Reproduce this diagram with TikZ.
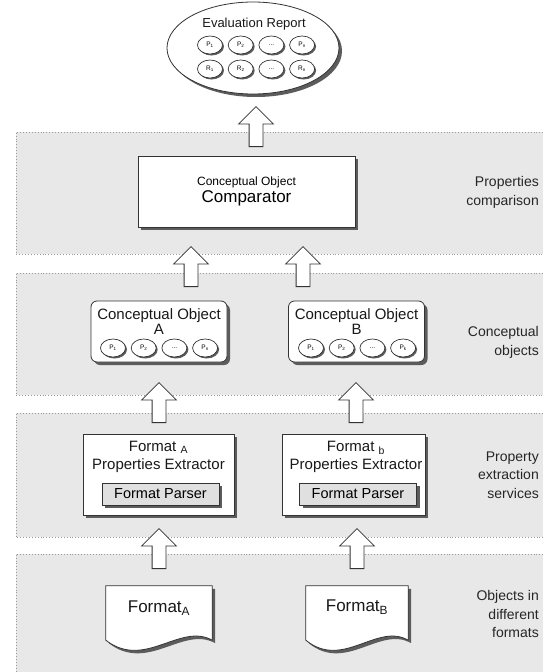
\documentclass[tikz,border=0pt]{standalone}
\usepackage{fontspec}
\setmainfont{Liberation Sans}
\usetikzlibrary{shapes.geometric, shapes.arrows, shadows, positioning}
\definecolor{bandgray}{HTML}{E8E8E8}
\definecolor{linegray}{HTML}{333333}
\definecolor{shadegray}{HTML}{5C5C5C}
\tikzset{
    band/.style={fill=bandgray},
    bandline/.style={draw=black!40, dotted, line width=0.9pt},
    layer/.style={font=\fontsize{14}{18.5}\selectfont, align=right, anchor=east, text=black!85, inner sep=0pt},
    shade/.style={drop shadow={shadow xshift=3pt, shadow yshift=-3pt, fill=shadegray, opacity=1}},
    box/.style={draw=linegray, fill=white, line width=0.8pt, align=center, inner sep=0pt, shade},
    cobox/.style={box, rounded corners=6pt, minimum width=136pt, minimum height=61pt},
    exbox/.style={box, minimum height=81pt},
    parser/.style={box, fill=black!12, minimum width=117pt, minimum height=22pt, font=\fontsize{14.5}{16}\selectfont},
    prop/.style={ellipse, draw=linegray, fill=white, line width=0.7pt, inner sep=0pt, minimum width=25pt, minimum height=18pt, font=\fontsize{6.5}{7}\selectfont, drop shadow={shadow xshift=1.5pt, shadow yshift=-1.5pt, fill=shadegray, opacity=1}},
    title/.style={align=center, inner sep=0pt, text=black!90},
    uparrow/.style={single arrow, draw=linegray, fill=white, line width=0.8pt, rotate=90, minimum height=40pt, minimum width=0pt, single arrow head extend=10.5pt, inner xsep=0pt, inner ysep=6.5pt, anchor=tail},
    docbody/.style={minimum width=106pt, minimum height=54pt, inner sep=0pt},
    docshape/.style={draw=linegray, fill=white, line width=0.8pt, shade}
}

\begin{document}
\begin{tikzpicture}[x=1pt, y=-1pt]
    \useasboundingbox (0,0) rectangle (543,672);

    % layers
    \fill[band] (16,132) rectangle (546,254);
    \draw[bandline] (546,132) -- (16,132) -- (16,254) -- (546,254);
    \fill[band] (16,273) rectangle (546,395);
    \draw[bandline] (546,273) -- (16,273) -- (16,395) -- (546,395);
    \fill[band] (16,413) rectangle (546,537);
    \draw[bandline] (546,413) -- (16,413) -- (16,537) -- (546,537);
    \fill[band] (16,554) rectangle (546,675);
    \draw[bandline] (546,554) -- (16,554) -- (16,675);

    \node (lcmp) [layer] at (539,192.5) {Properties\\comparison};
    \node (lco) [layer] at (539,342.5) {Conceptual\\objects};
    \node (lext) [layer] at (539,475) {Property\\extraction\\services};
    \node (lfmt) [layer] at (539,614) {Objects in\\different\\formats};

    % evaluation report
    \node (report) [ellipse, draw=linegray, fill=white, line width=0.8pt, minimum width=172pt, minimum height=92pt, shade] at (253,48) {};
    \node (rtitle) [title, font=\fontsize{13}{15}\selectfont] at (254,24) {Evaluation Report};
    \node (rp1) [prop] at (210,45) {P\textsubscript{1}};
    \node (rp2) [prop, right=5pt of rp1] {P\textsubscript{2}};
    \node (rp3) [prop, right=5pt of rp2] {...};
    \node (rp4) [prop, right=5pt of rp3] {P\textsubscript{n}};
    \node (rr1) [prop] at (210,69) {R\textsubscript{1}};
    \node (rr2) [prop, right=5pt of rr1] {R\textsubscript{2}};
    \node (rr3) [prop, right=5pt of rr2] {...};
    \node (rr4) [prop, right=5pt of rr3] {R\textsubscript{n}};

    % comparator
    \node (cmp) [box, minimum width=217pt, minimum height=71pt] at (246.5,191.5)
        {{\fontsize{12}{14}\selectfont Conceptual Object}\\[1pt]{\fontsize{17}{19}\selectfont Comparator}};

    % conceptual objects
    \node (coA) [cobox] at (159,331.5) {};
    \node (coAt) [title, font=\fontsize{15}{15}\selectfont] at (159,322) {Conceptual Object\\A};
    \node (pa1) [prop] at (113,348) {P\textsubscript{1}};
    \node (pa2) [prop, right=5pt of pa1] {P\textsubscript{2}};
    \node (pa3) [prop, right=5pt of pa2] {...};
    \node (pa4) [prop, right=5pt of pa3] {P\textsubscript{n}};

    \node (coB) [cobox] at (356.5,331.5) {};
    \node (coBt) [title, font=\fontsize{15}{15}\selectfont] at (356.5,322) {Conceptual Object\\B};
    \node (pb1) [prop] at (311,348) {P\textsubscript{1}};
    \node (pb2) [prop, right=5pt of pb1] {P\textsubscript{2}};
    \node (pb3) [prop, right=5pt of pb2] {...};
    \node (pb4) [prop, right=5pt of pb3] {P\textsubscript{k}};

    % extractors
    \node (exA) [exbox, minimum width=151pt] at (158.5,474.5) {};
    \node (exAt) [title, font=\fontsize{15}{18}\selectfont] at (158.5,457) {Format \textsubscript{A}\\Properties Extractor};
    \node (paA) [parser] at (160.5,494) {Format Parser};
    \node (exB) [exbox, minimum width=143pt] at (353.5,474.5) {};
    \node (exBt) [title, font=\fontsize{15}{18}\selectfont] at (356,457) {Format \textsubscript{b}\\Properties Extractor};
    \node (paB) [parser] at (358,494) {Format Parser};

    % documents
    \node (docA) [docbody] at (159,613) {};
    \draw[docshape] (docA.south east) -- (docA.north east) -- (docA.north west) -- (docA.south west)
        .. controls +(39,30) and +(-32,-18) .. (docA.south east);
    \node (docAt) [title, font=\fontsize{17}{19}\selectfont] at (159,608) {Format\textsubscript{A}};
    \node (docB) [docbody, minimum width=102pt] at (357,613) {};
    \draw[docshape] (docB.south east) -- (docB.north east) -- (docB.north west) -- (docB.south west)
        .. controls +(37,30) and +(-31,-18) .. (docB.south east);
    \node (docBt) [title, font=\fontsize{17}{19}\selectfont] at (357,607) {Format\textsubscript{B}};

    % arrows
    \node (ar0) [uparrow] at (256,147) {};
    \node (ar1) [uparrow] at (191,287) {};
    \node (ar2) [uparrow] at (303,287) {};
    \node (ar3) [uparrow] at (159,423) {};
    \node (ar4) [uparrow] at (356,423) {};
    \node (ar5) [uparrow] at (159,569) {};
    \node (ar6) [uparrow] at (357,569) {};
\end{tikzpicture}
\end{document}
